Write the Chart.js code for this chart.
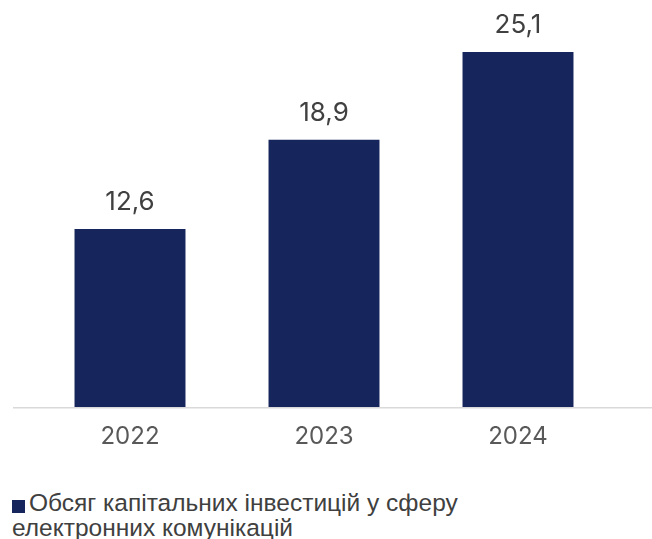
<!DOCTYPE html>
<html>
<head>
<meta charset="utf-8">
<script src="https://cdn.jsdelivr.net/npm/chart.js"></script>
<style>
  body{ margin:0; background:#fff; }
  #wrap{ position:relative; width:652px; height:539px; }
  #legend{ position:absolute; left:12px; top:490px; font-family:"Liberation Sans", Arial, sans-serif;
    font-size:24.5px; line-height:25px; color:#404040; white-space:nowrap; }
  #legend .box{ display:inline-block; width:13px; height:13px; margin-right:4px; vertical-align:-2px; }
</style>
</head>
<body>
<div id="wrap">
  <canvas id="chart" width="652" height="470"></canvas>
  <div id="legend"></div>
</div>
<script>
const years = ['2022', '2023', '2024'];
const investments = [12.6, 18.9, 25.1];
const seriesName = 'Обсяг капітальних інвестицій у сферу електронних комунікацій';

const barColor = '#16255c';

// value labels above bars + long baseline
const valueLabels = {
  id: 'valueLabels',
  afterDatasetsDraw(chart){
    const ctx = chart.ctx;
    const meta = chart.getDatasetMeta(0);
    ctx.save();
    ctx.font = '26px Inter, "Noto Sans", sans-serif';
    ctx.fillStyle = '#404040';
    ctx.textAlign = 'center';
    ctx.textBaseline = 'bottom';
    meta.data.forEach((bar, i)=>{
      ctx.fillText(investments[i].toFixed(1).replace('.', ','), bar.x, bar.y - 14);
    });
    const y = chart.chartArea.bottom + 0.5;
    ctx.strokeStyle = '#d9d9d9';
    ctx.lineWidth = 1.5;
    ctx.beginPath();
    ctx.moveTo(13, y);
    ctx.lineTo(652, y);
    ctx.stroke();
    ctx.restore();
  }
};

const chart = new Chart(document.getElementById('chart'), {
  type: 'bar',
  data: {
    labels: years,
    datasets: [{
      label: seriesName,
      data: investments,
      backgroundColor: barColor,
      barPercentage: 0.572,
      categoryPercentage: 1
    }]
  },
  options: {
    responsive: false,
    animation: false,
    layout: { padding: { top: 11, left: 33, right: 37, bottom: 4 } },
    plugins: { legend: { display: false }, tooltip: { enabled: false } },
    scales: {
      x: {
        grid: { display: false, drawTicks: false },
        border: { display: false },
        ticks: { padding: 15, color: '#595959', font: { family: 'Inter, "Noto Sans", sans-serif', size: 24 } }
      },
      y: { display: false, min: 0, max: 28 }
    }
  },
  plugins: [valueLabels]
});

const legend = document.getElementById('legend');
chart.data.datasets.forEach(ds=>{
  const box = document.createElement('span');
  box.className = 'box';
  box.style.background = ds.backgroundColor;
  legend.appendChild(box);
  const words = ds.label.split(' ');
  legend.appendChild(document.createTextNode(words.slice(0, 5).join(' ')));
  legend.appendChild(document.createElement('br'));
  legend.appendChild(document.createTextNode(words.slice(5).join(' ')));
});
</script>
</body>
</html>
